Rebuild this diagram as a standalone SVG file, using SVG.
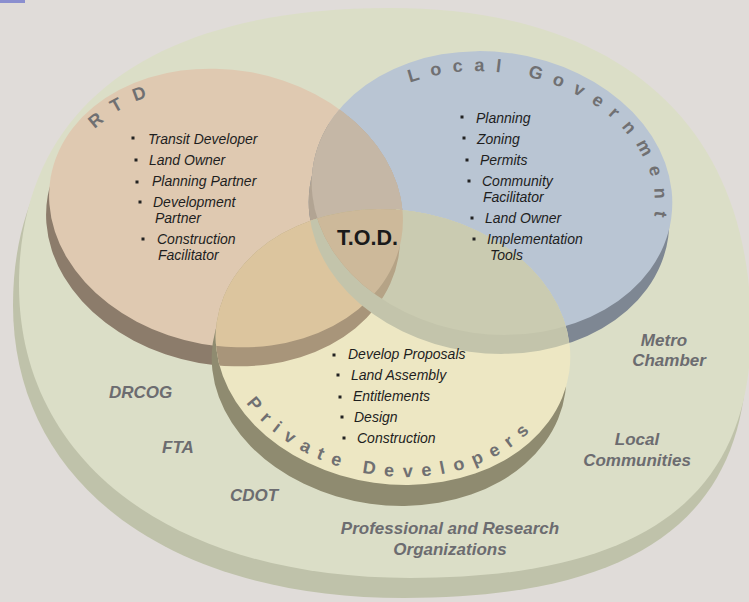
<svg xmlns="http://www.w3.org/2000/svg" width="749" height="602" viewBox="0 0 749 602">
<style>
.bl{font-family:"Liberation Sans",Arial,sans-serif;font-style:italic;font-size:14px;fill:#1e1e1e}
.arc{font-family:"Liberation Sans",Arial,sans-serif;font-weight:bold;font-size:18px;fill:#707072}
.ext{font-family:"Liberation Sans",Arial,sans-serif;font-weight:bold;font-style:italic;font-size:17px;fill:#6c6c70}
.tod{font-family:"Liberation Sans",Arial,sans-serif;font-weight:bold;font-size:21.5px;fill:#1a1a1a}
.bu{fill:#222}
</style>
<defs>
<ellipse id="rF" cx="226" cy="208" rx="178" ry="138" transform="rotate(10 226 208)"/>
<ellipse id="rR" cx="223" cy="227" rx="178" ry="138" transform="rotate(10 223 227)"/>
<ellipse id="bF" cx="492" cy="193" rx="181" ry="141" transform="rotate(8 492 193)"/>
<ellipse id="bR" cx="489" cy="212" rx="181" ry="141" transform="rotate(8 489 212)"/>
<ellipse id="yF" cx="393" cy="347" rx="178" ry="137" transform="rotate(8 393 347)"/>
<ellipse id="yR" cx="389" cy="368" rx="178" ry="137" transform="rotate(8 389 368)"/>
<clipPath id="cRF"><use href="#rF"/></clipPath>
<clipPath id="cBF"><use href="#bF"/></clipPath>
<clipPath id="cYF"><use href="#yF"/></clipPath>
<path id="pRTD" d="M 95,129.5 A 160 120 10 0 1 219.2,86.8"/>
<path id="pLG" d="M 410.2,82.7 A 164 121 8 0 1 624.2,272.6"/>
<path id="pPD" d="M 246.3,403 A 170 129 8 0 0 555.7,392.5"/>
</defs>
<rect width="749" height="602" fill="#e0dcd9"/>
<rect x="0" y="0" width="25" height="3" fill="#8b8fcf"/>
<g id="outer-ring">
<path d="M 13,305 C 13,120 154,28 384,28 C 609,28 747,140 747,350 C 747,520 634,598 404,598 C 164,598 13,480 13,305 Z" fill="#bfc2aa"/>
<path d="M 19,285 C 19,100 160,8 390,8 C 615,8 751,120 751,330 C 751,500 640,578 410,578 C 170,578 19,460 19,285 Z" fill="#dbdec7"/>
</g>
<g id="rtd">
<use href="#rR" fill="#8c7c6b"/>
<use href="#rF" fill="#dfc9b1"/>
</g>
<g id="local-government">
<use href="#bR" fill="#7e8793"/>
<use href="#bF" fill="#b9c5d3"/>
</g>
<g id="overlap-rtd-gov">
<g clip-path="url(#cRF)"><use href="#bR" fill="#b2a493"/><use href="#bF" fill="#c5b7a6"/></g>
<g clip-path="url(#cBF)"><use href="#rR" fill="#a89a8b"/><use href="#rF" fill="#c5b7a6"/></g>
</g>
<g id="private-developers">
<use href="#yR" fill="#8f8b70"/>
<use href="#yF" fill="#ede7c3"/>
</g>
<g id="overlap-developers" clip-path="url(#cYF)">
<use href="#rR" fill="#a8957a"/>
<use href="#rF" fill="#dcc59e"/>
<use href="#bR" fill="#c3c4ab"/>
<use href="#bF" fill="#cacbb1"/>
<g clip-path="url(#cBF)"><use href="#rR" fill="#b5a386"/><use href="#rF" fill="#cdb99a"/></g>
</g>
<g id="connectors"/>
<g id="rtd-labels">
<text class="arc" letter-spacing="12.5"><textPath href="#pRTD">RTD</textPath></text>
<rect class="bu" x="131.5" y="136.5" width="3" height="3"/>
<text class="bl" x="148" y="144">Transit Developer</text>
<rect class="bu" x="134.5" y="158.5" width="3" height="3"/>
<text class="bl" x="149" y="165">Land Owner</text>
<rect class="bu" x="135.5" y="180.5" width="3" height="3"/>
<text class="bl" x="152" y="186">Planning Partner</text>
<rect class="bu" x="138.5" y="200.5" width="3" height="3"/>
<text class="bl" x="153" y="207">Development</text>
<text class="bl" x="155" y="223">Partner</text>
<rect class="bu" x="141.5" y="237.5" width="3" height="3"/>
<text class="bl" x="157" y="244">Construction</text>
<text class="bl" x="158" y="260">Facilitator</text>
</g>
<g id="local-government-labels">
<text class="arc" letter-spacing="11.1"><textPath href="#pLG">Local Government</textPath></text>
<rect class="bu" x="460.5" y="115.5" width="3" height="3"/>
<text class="bl" x="476" y="123">Planning</text>
<rect class="bu" x="462.5" y="136.5" width="3" height="3"/>
<text class="bl" x="477" y="144">Zoning</text>
<rect class="bu" x="465.5" y="158.5" width="3" height="3"/>
<text class="bl" x="480" y="165">Permits</text>
<rect class="bu" x="467.5" y="179.5" width="3" height="3"/>
<text class="bl" x="482" y="186">Community</text>
<text class="bl" x="483" y="202">Facilitator</text>
<rect class="bu" x="470.5" y="216.5" width="3" height="3"/>
<text class="bl" x="485" y="223">Land Owner</text>
<rect class="bu" x="472.5" y="237.5" width="3" height="3"/>
<text class="bl" x="487" y="244">Implementation</text>
<text class="bl" x="490" y="260">Tools</text>
</g>
<g id="private-developers-labels">
<text class="arc" letter-spacing="9.1"><textPath href="#pPD">Private Developers</textPath></text>
<rect class="bu" x="332.5" y="353.5" width="3" height="3"/>
<text class="bl" x="348" y="359">Develop Proposals</text>
<rect class="bu" x="336.5" y="373.5" width="3" height="3"/>
<text class="bl" x="351" y="380">Land Assembly</text>
<rect class="bu" x="338.5" y="395.5" width="3" height="3"/>
<text class="bl" x="353" y="401">Entitlements</text>
<rect class="bu" x="340.5" y="415.5" width="3" height="3"/>
<text class="bl" x="354" y="422">Design</text>
<rect class="bu" x="342.5" y="436.5" width="3" height="3"/>
<text class="bl" x="357" y="443">Construction</text>
</g>
<g id="tod">
<text class="tod" x="337" y="245">T.O.D.</text>
</g>
<g id="stakeholders">
<text class="ext" x="109" y="398">DRCOG</text>
<text class="ext" x="162" y="453">FTA</text>
<text class="ext" x="230" y="501">CDOT</text>
<text class="ext" x="450" y="534" text-anchor="middle">Professional and Research</text>
<text class="ext" x="450" y="555" text-anchor="middle">Organizations</text>
<text class="ext" x="664" y="346" text-anchor="middle">Metro</text>
<text class="ext" x="669" y="366" text-anchor="middle">Chamber</text>
<text class="ext" x="637" y="445" text-anchor="middle">Local</text>
<text class="ext" x="637" y="466" text-anchor="middle">Communities</text>
</g>
</svg>
